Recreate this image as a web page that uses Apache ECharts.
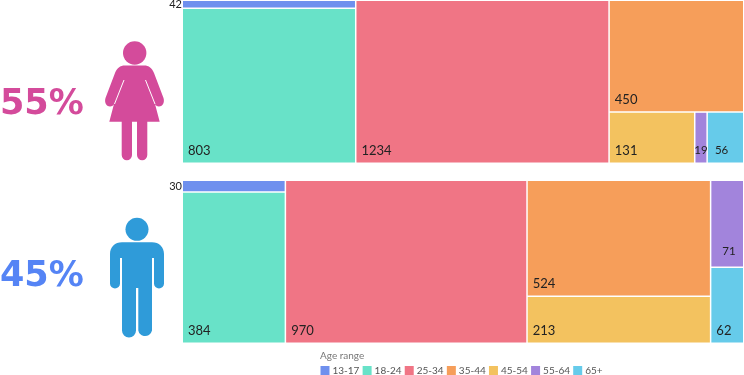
<!DOCTYPE html>
<html>
<head>
<meta charset="utf-8">
<style>html,body{margin:0;padding:0;background:#fff}#c{width:744px;height:375px}</style>
<script src="https://cdn.jsdelivr.net/npm/echarts@6/dist/echarts.min.js"></script>
</head>
<body>
<div id="c"></div>
<script>
const ageRanges = ['13-17','18-24','25-34','35-44','45-54','55-64','65+'];
const ageColors = ['#6f90ee','#68e2c8','#f07585','#f69e5a','#f3c25f','#a284dc','#66cbea'];
const womenValues = [42,803,1234,450,131,19,56];
const menValues = [30,384,970,524,213,71,62];
const womenShare = '55%';
const menShare = '45%';
const womenColor = '#d44b9b';
const menColor = '#5584f5';

function leaf(values, i, labelOpt) {
  const n = {name: ageRanges[i], value: values[i], itemStyle: {color: ageColors[i]}};
  if (labelOpt) n.label = labelOpt;
  return n;
}
const outsideLabel = {position: 'left', distance: 1, color: '#222', fontSize: 11, lineHeight: 4, overflow: 'none', padding: 0};
// zero-size spacer: makes the squarify row break after the thin top strip
const rowBreak = {name:'', value:0.001, itemStyle:{color:'transparent'}, label:{show:false}};
const womenTree = [
  {name:'a', children:[leaf(womenValues,0,outsideLabel), leaf(womenValues,1)]},
  leaf(womenValues,2),
  {name:'c', children:[leaf(womenValues,3),
    {name:'d', children:[leaf(womenValues,4),
      {name:'e', children:[
        leaf(womenValues,5,{position:'insideBottom', distance:1, fontSize:11.5, overflow:'none', padding:[0,0,5,0]}),
        leaf(womenValues,6,{fontSize:11.5, padding:[0,0,5,6]})]}]}]}
];
const menTree = [
  {name:'a', children:[leaf(menValues,0,outsideLabel), rowBreak, leaf(menValues,1)]},
  leaf(menValues,2),
  {name:'c', children:[
    {name:'d', children:[leaf(menValues,3), leaf(menValues,4)]},
    {name:'e', children:[
      leaf(menValues,5,{fontSize:11.5, padding:[0,0,8,10]}),
      leaf(menValues,6)]}]}
];
function tm(data, top, height, ratio) {
  const lvl = {itemStyle:{gapWidth:1.5, borderWidth:0, borderColor:'#fff'}};
  return {
    type:'treemap', left:183, top:top, width:560, height:height,
    roam:false, nodeClick:false, breadcrumb:{show:false}, sort:false,
    squareRatio:ratio, visibleMin:0, childrenVisibleMin:0,
    silent:true, animation:false,
    label:{show:true, position:'insideBottomLeft', distance:1, formatter:'{c}',
      color:'#222', fontFamily:'Lato', fontSize:13, overflow:'none', padding:[0,0,4,4]},
    upperLabel:{show:false},
    itemStyle:{gapWidth:1.5, borderWidth:0},
    levels:[lvl,lvl,lvl,lvl,lvl],
    data:data
  };
}
const womanPath = 'M125,65.5H144C149,65.5 152,68 154,73L163.5,98C165,103 162,106.5 159,106.5C157,106.5 155.5,105.5 155,104L159.7,121.7H147.3V155A5,5 0 0 1 137,155V121.7H132V155A5,5 0 0 1 121.7,155V121.7H109.3L114,104C113.5,105.5 112,106.5 110,106.5C107,106.5 104,103 105.5,98L115,73C117,68 120,65.5 125,65.5Z';
const manPath = 'M122,242.3H152C159,242.3 164,247 164,254V283.5A5,5 0 0 1 154,283.5V258H152V330.5A7,7 0 0 1 138.3,330.5V288H136V330.5A7,7 0 0 1 122,330.5V258H120V283.5A5,5 0 0 1 110,283.5V254C110,247 115,242.3 122,242.3Z';
echarts.graphic.registerShape('womanIcon', echarts.graphic.extendPath(womanPath, {}));
echarts.graphic.registerShape('manIcon', echarts.graphic.extendPath(manPath, {}));
const chart = echarts.init(document.getElementById('c'), null, {renderer:'canvas'});
chart.setOption({
  animation:false,
  legend:{
    left:320.5, top:365.5, itemWidth:9, itemHeight:9, itemGap:3.2, icon:'rect', padding:0,
    data:ageRanges, selectedMode:false,
    textStyle:{fontFamily:'Lato', fontSize:10, color:'#555', padding:[0,0,0,-2]}
  },
  graphic:[
    {type:'text', left:0, top:87, style:{text:womenShare, fill:womenColor, font:'bold 35px "DejaVu Sans"'}},
    {type:'text', left:0, top:259, style:{text:menShare, fill:menColor, font:'bold 35px "DejaVu Sans"'}},
    {type:'text', left:320, top:351, style:{text:'Age range', fill:'#777', font:'10px Lato'}},
    {type:'circle', shape:{cx:134.7,cy:53,r:11.7}, style:{fill:womenColor}},
    {type:'womanIcon', style:{fill:womenColor}},
    {type:'line', shape:{x1:124,y1:80,x2:114.5,y2:104}, style:{stroke:'#fff',lineWidth:1}},
    {type:'line', shape:{x1:145.5,y1:80,x2:155,y2:104}, style:{stroke:'#fff',lineWidth:1}},
    {type:'circle', shape:{cx:137,cy:229.3,r:11.5}, style:{fill:'#2f9bd9'}},
    {type:'manIcon', style:{fill:'#2f9bd9'}}
  ],
  series:[
    tm(womenTree,1,161.5,1.618),
    tm(menTree,181,161.5,2),
    {type:'pie', radius:[0,0], center:[-50,-50], silent:true, label:{show:false}, labelLine:{show:false},
     stillShowZeroSum:false, color:ageColors,
     data:ageRanges.map(n=>({name:n,value:0}))}
  ]
});
</script>
</body>
</html>
